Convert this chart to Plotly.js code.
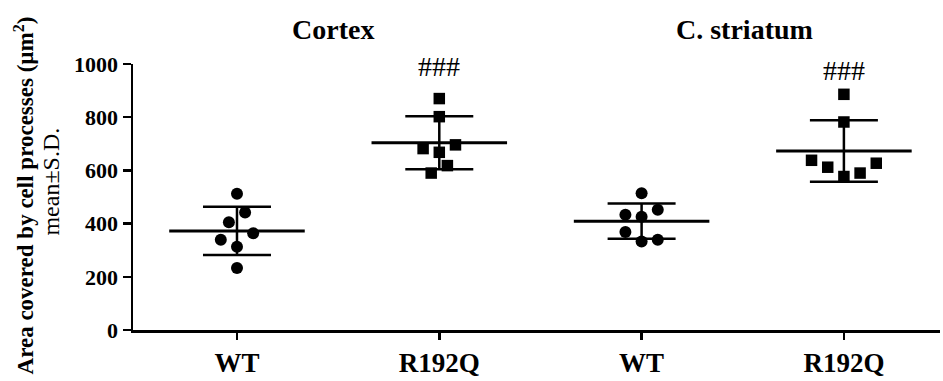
<!DOCTYPE html>
<html>
<head>
<meta charset="utf-8">
<script src="https://cdn.plot.ly/plotly-3.0.1.min.js"></script>
<style>html,body{margin:0;padding:0;background:#fff;}#chart{width:943px;height:381px;}</style>
</head>
<body>
<div id="chart"></div>
<script>
// Categories (x positions 0..3)
const categories = ["WT", "R192Q", "WT", "R192Q"];
const regionTitles = ["Cortex", "C. striatum"];
const sigLabel = "###";

// Individual values (µm²)
const cortexWT      = [512, 442, 405, 364, 339, 313, 233];
const cortexR192Q   = [870, 802, 696, 682, 668, 618, 590];
const striatumWT    = [514, 452, 433, 426, 368, 333, 339];
const striatumR192Q = [886, 782, 638, 627, 612, 590, 577];

// Horizontal scatter offsets (category units)
const offCortexWT      = [0, 0.04, -0.04, 0.08, -0.08, 0, 0];
const offCortexR192Q   = [0, 0, 0.08, -0.08, 0, 0.04, -0.04];
const offStriatumWT    = [0, 0.08, -0.08, 0, -0.08, 0, 0.08];
const offStriatumR192Q = [0, 0, -0.16, 0.16, -0.08, 0.08, 0];

const groups = [
  {vals: cortexWT, off: offCortexWT, symbol: "circle"},
  {vals: cortexR192Q, off: offCortexR192Q, symbol: "square"},
  {vals: striatumWT, off: offStriatumWT, symbol: "circle"},
  {vals: striatumR192Q, off: offStriatumR192Q, symbol: "square"}
];

function mean(a){ return a.reduce((s,v)=>s+v,0)/a.length; }
function sd(a){ const m=mean(a); return Math.sqrt(a.reduce((s,v)=>s+(v-m)*(v-m),0)/(a.length-1)); }

const FONT = "Liberation Serif";
const traces = [];
const halfMean = 0.335;

groups.forEach((g, i) => {
  const m = mean(g.vals), s = sd(g.vals);
  traces.push({type:"scatter", mode:"lines", x:[i-halfMean, i+halfMean], y:[m, m],
    line:{color:"#000", width:3}, hoverinfo:"skip", showlegend:false, cliponaxis:false});
  traces.push({type:"scatter", mode:"markers", x:[i], y:[m],
    marker:{size:0.1, color:"#000"},
    error_y:{type:"data", array:[s], visible:true, color:"#000", thickness:2.5, width:34},
    hoverinfo:"skip", showlegend:false});
  traces.push({type:"scatter", mode:"markers",
    x: g.vals.map((v,k)=> i + g.off[k]), y: g.vals,
    marker:{symbol:g.symbol, size:g.symbol==="square"?11.5:12, color:"#000", line:{width:0}},
    showlegend:false, cliponaxis:false});
});

const layout = {
  width: 943, height: 381,
  margin: {l:133, r:3, t:64, b:51},
  paper_bgcolor:"#fff", plot_bgcolor:"#fff",
  showlegend:false,
  font:{family:FONT, color:"#000"},
  xaxis: {
    range:[-0.514, 3.475],
    tickvals:[0,1,2,3], ticktext: categories,
    showgrid:false, zeroline:false,
    showline:true, linecolor:"#000", linewidth:2.5,
    ticks:"outside", ticklen:7, tickwidth:2.5, tickcolor:"#000",
    tickfont:{family:FONT, size:27, weight:"bold", color:"#000"}
  },
  yaxis: {
    range:[0, 1000],
    tickvals:[0,200,400,600,800,1000],
    showgrid:false, zeroline:false,
    showline:true, linecolor:"#000", linewidth:2.5,
    ticks:"outside", ticklen:8, tickwidth:2.5, tickcolor:"#000",
    tickfont:{family:FONT, size:22, weight:"bold", color:"#000"}
  },
  annotations: [
    {text: regionTitles[0], xref:"x", yref:"paper", x:0.475, y:1.128, showarrow:false,
      xanchor:"center", yanchor:"middle", font:{family:FONT, size:28, weight:"bold", color:"#000"}},
    {text: regionTitles[1], xref:"x", yref:"paper", x:2.51, y:1.128, showarrow:false,
      xanchor:"center", yanchor:"middle", font:{family:FONT, size:28, weight:"bold", color:"#000"}},
    {text: sigLabel, xref:"x", yref:"y", x:1, y:990, showarrow:false,
      xanchor:"center", yanchor:"middle", font:{family:FONT, size:28, color:"#000"}},
    {text: sigLabel, xref:"x", yref:"y", x:3, y:977, showarrow:false,
      xanchor:"center", yanchor:"middle", font:{family:FONT, size:28, color:"#000"}},
    {text: "Area covered by cell processes (µm<sup>2</sup>)", xref:"paper", yref:"paper",
      x:-0.135, y:0.506, textangle:-90, showarrow:false, xanchor:"center", yanchor:"middle",
      font:{family:FONT, size:23, weight:"bold", color:"#000"}},
    {text: "mean±S.D.", xref:"paper", yref:"paper",
      x:-0.1016, y:0.558, textangle:-90, showarrow:false, xanchor:"center", yanchor:"middle",
      font:{family:FONT, size:24, color:"#000"}}
  ]
};

Plotly.newPlot("chart", traces, layout, {displayModeBar:false, staticPlot:true});
</script>
</body>
</html>
